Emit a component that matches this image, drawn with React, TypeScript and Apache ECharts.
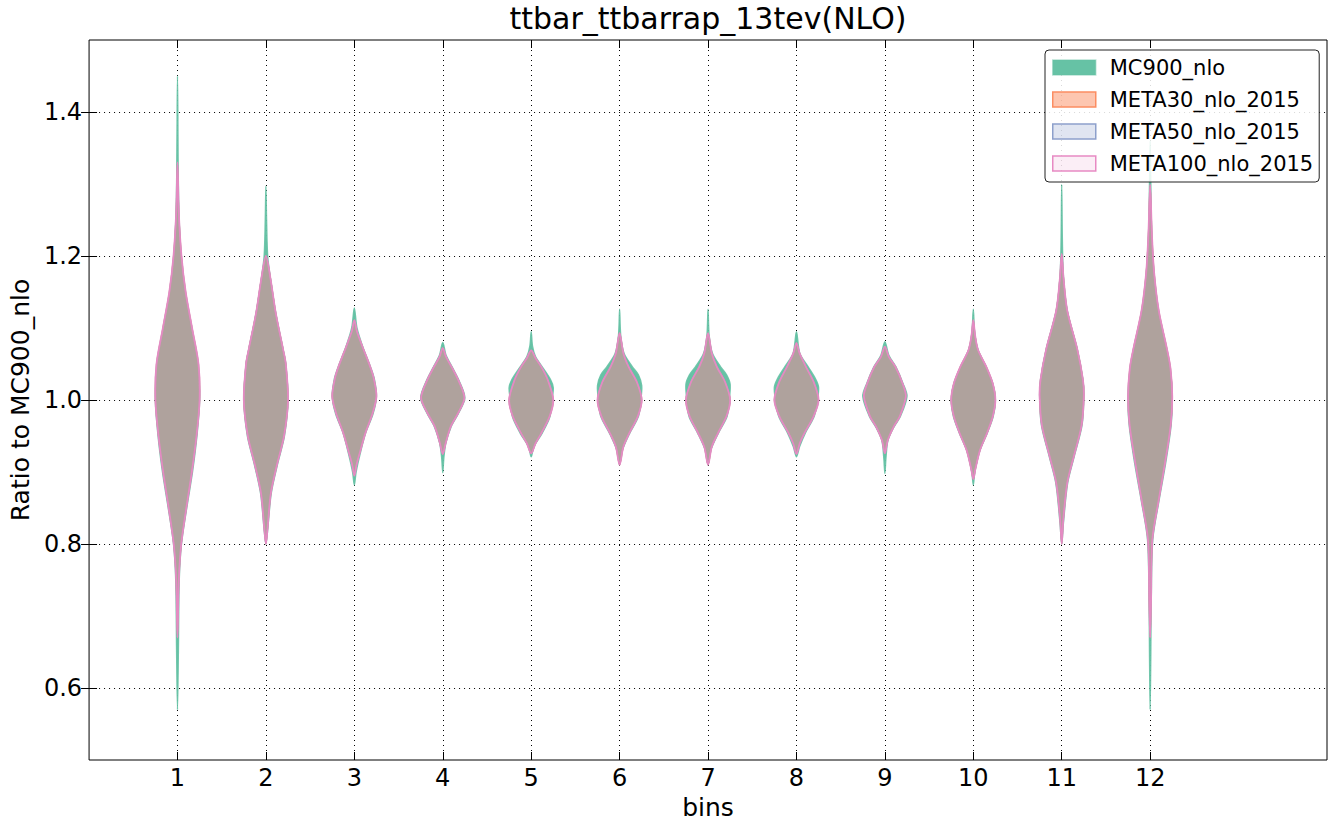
import React, { useEffect, useRef } from "react";
import * as echarts from "echarts";

const FONT = "DejaVu Sans";

const bins = [1, 2, 3, 4, 5, 6, 7, 8, 9, 10, 11, 12];
const yTicks = [0.6, 0.8, 1.0, 1.2, 1.4];
const seriesNames = ["MC900_nlo", "META30_nlo_2015", "META50_nlo_2015", "META100_nlo_2015"];

// Each violin: [ratio value, relative half-width (1 = widest point of that violin)]
type Profile = [number, number][];

const mc900Profiles: Profile[] = [
  [[0.57, 0], [0.65, 0.04], [0.75, 0.08], [0.8, 0.18], [0.85, 0.42], [0.9, 0.68], [0.95, 0.88], [1.0, 1.0], [1.05, 0.92], [1.1, 0.62], [1.15, 0.34], [1.2, 0.16], [1.28, 0.05], [1.45, 0]],
  [[0.8, 0], [0.82, 0.08], [0.87, 0.24], [0.91, 0.52], [0.95, 0.84], [1.0, 1.0], [1.05, 0.9], [1.07, 0.78], [1.12, 0.45], [1.17, 0.2], [1.2, 0.08], [1.25, 0.03], [1.297, 0]],
  [[0.882, 0], [0.9, 0.08], [0.925, 0.26], [0.955, 0.52], [0.98, 0.84], [1.005, 1.0], [1.03, 0.9], [1.046, 0.73], [1.074, 0.38], [1.1, 0.12], [1.128, 0]],
  [[0.899, 0], [0.92, 0.05], [0.94, 0.14], [0.963, 0.38], [0.982, 0.72], [1.003, 1.0], [1.028, 0.72], [1.046, 0.42], [1.062, 0.15], [1.08, 0]],
  [[0.921, 0], [0.935, 0.12], [0.954, 0.5], [0.977, 0.85], [1.0, 0.94], [1.017, 1.0], [1.028, 0.88], [1.046, 0.5], [1.06, 0.2], [1.075, 0.06], [1.095, 0]],
  [[0.91, 0], [0.93, 0.12], [0.954, 0.46], [0.977, 0.85], [1.0, 0.96], [1.02, 1.0], [1.035, 0.85], [1.046, 0.58], [1.065, 0.2], [1.09, 0.05], [1.126, 0]],
  [[0.91, 0], [0.93, 0.12], [0.954, 0.47], [0.977, 0.86], [1.0, 0.96], [1.022, 1.0], [1.035, 0.84], [1.046, 0.57], [1.065, 0.2], [1.09, 0.05], [1.126, 0]],
  [[0.921, 0], [0.935, 0.14], [0.954, 0.4], [0.977, 0.8], [1.0, 0.95], [1.018, 1.0], [1.03, 0.85], [1.046, 0.53], [1.065, 0.15], [1.095, 0]],
  [[0.898, 0], [0.92, 0.05], [0.944, 0.14], [0.963, 0.42], [0.977, 0.7], [1.005, 1.0], [1.023, 0.82], [1.046, 0.5], [1.062, 0.18], [1.081, 0]],
  [[0.882, 0], [0.9, 0.07], [0.93, 0.3], [0.954, 0.63], [0.977, 0.9], [1.0, 1.0], [1.023, 0.88], [1.046, 0.58], [1.069, 0.22], [1.09, 0.07], [1.126, 0]],
  [[0.8, 0], [0.83, 0.08], [0.885, 0.27], [0.922, 0.57], [0.965, 0.92], [1.005, 1.0], [1.028, 0.96], [1.071, 0.7], [1.124, 0.25], [1.17, 0.08], [1.22, 0.03], [1.299, 0]],
  [[0.57, 0], [0.65, 0.03], [0.72, 0.05], [0.806, 0.12], [0.86, 0.4], [0.912, 0.7], [0.965, 0.95], [1.005, 1.0], [1.044, 0.9], [1.071, 0.74], [1.124, 0.37], [1.177, 0.17], [1.23, 0.07], [1.3, 0.03], [1.36, 0]],
];

// META30 / META50 / META100 are indistinguishable in the picture
const metaProfiles: Profile[] = [
  [[0.67, 0], [0.75, 0.06], [0.8, 0.17], [0.85, 0.4], [0.9, 0.65], [0.95, 0.86], [1.0, 1.0], [1.05, 0.95], [1.1, 0.66], [1.15, 0.37], [1.2, 0.18], [1.26, 0.06], [1.33, 0]],
  [[0.8, 0], [0.82, 0.07], [0.87, 0.22], [0.91, 0.5], [0.95, 0.82], [1.0, 1.0], [1.05, 0.9], [1.07, 0.78], [1.12, 0.45], [1.17, 0.2], [1.2, 0]],
  [[0.895, 0], [0.91, 0.1], [0.926, 0.24], [0.954, 0.5], [0.982, 0.83], [1.005, 1.0], [1.03, 0.88], [1.046, 0.72], [1.074, 0.37], [1.095, 0.12], [1.111, 0]],
  [[0.925, 0], [0.94, 0.13], [0.963, 0.36], [0.982, 0.7], [1.003, 0.98], [1.028, 0.7], [1.046, 0.4], [1.06, 0.15], [1.072, 0]],
  [[0.926, 0], [0.94, 0.2], [0.954, 0.46], [0.977, 0.83], [1.0, 1.0], [1.028, 0.75], [1.046, 0.46], [1.058, 0.2], [1.069, 0]],
  [[0.91, 0], [0.935, 0.17], [0.954, 0.44], [0.977, 0.82], [1.0, 1.0], [1.025, 0.78], [1.046, 0.41], [1.065, 0.17], [1.093, 0]],
  [[0.91, 0], [0.935, 0.17], [0.954, 0.45], [0.977, 0.83], [1.0, 1.0], [1.025, 0.77], [1.046, 0.4], [1.065, 0.17], [1.093, 0]],
  [[0.925, 0], [0.94, 0.15], [0.954, 0.36], [0.977, 0.77], [1.0, 1.0], [1.025, 0.78], [1.046, 0.43], [1.065, 0.14], [1.079, 0]],
  [[0.926, 0], [0.944, 0.13], [0.963, 0.4], [0.977, 0.67], [1.005, 0.95], [1.023, 0.8], [1.046, 0.48], [1.06, 0.18], [1.074, 0]],
  [[0.89, 0], [0.905, 0.1], [0.93, 0.3], [0.954, 0.62], [0.977, 0.88], [1.0, 1.0], [1.023, 0.88], [1.046, 0.59], [1.069, 0.22], [1.09, 0.08], [1.111, 0]],
  [[0.8, 0], [0.833, 0.07], [0.885, 0.25], [0.922, 0.55], [0.965, 0.9], [1.005, 1.0], [1.028, 0.96], [1.071, 0.7], [1.124, 0.25], [1.17, 0.08], [1.203, 0]],
  [[0.67, 0], [0.72, 0.04], [0.806, 0.1], [0.86, 0.38], [0.912, 0.67], [0.965, 0.93], [1.005, 1.0], [1.044, 0.92], [1.071, 0.76], [1.124, 0.39], [1.177, 0.18], [1.23, 0.08], [1.299, 0]],
];

const profilesBySeries: Profile[][] = [mc900Profiles, metaProfiles, metaProfiles, metaProfiles];
const fillColors = ["rgba(102,194,165,1)", "rgba(252,141,98,0.5)", "rgba(141,160,203,0.28)", "rgba(231,138,195,0.15)"];
const edgeColors = ["rgba(102,194,165,0.9)", "rgba(252,141,98,0.8)", "rgba(141,160,203,0.8)", "rgba(231,138,195,0.95)"];
const edgeWidths = [1.4, 1.2, 1.2, 1.8];
const legendFill = ["rgba(102,194,165,1)", "rgba(252,141,98,0.5)", "rgba(141,160,203,0.27)", "rgba(231,138,195,0.15)"];
const legendEdge = ["rgba(102,194,165,0.45)", "#fc8d62", "#8da0cb", "#e78ac3"];

const HALF_WIDTH = 0.25;

export default function App() {
  const ref = useRef<HTMLDivElement>(null);
  useEffect(() => {
    document.body.style.margin = "0";
    const chart = echarts.init(ref.current!, undefined, { renderer: "svg" });
    const gridDots = { color: "#000", width: 1, type: [1, 4] as any };
    const series = seriesNames.map((name, si) => ({
      name,
      type: "custom",
      xAxisIndex: 0,
      yAxisIndex: 0,
      data: bins.map((b) => [b, 1.0]),
      encode: { x: 0, y: 1 },
      renderItem: (params: any, api: any) => {
        const b = api.value(0);
        const prof = profilesBySeries[si][b - 1];
        const right = prof.map(([v, w]) => api.coord([b + w * HALF_WIDTH, v]));
        const left = prof
          .slice(1, -1)
          .reverse()
          .map(([v, w]) => api.coord([b - w * HALF_WIDTH, v]));
        return {
          type: "polygon",
          shape: { points: [...right, ...left], smooth: 0.3 },
          style: { fill: fillColors[si], stroke: edgeColors[si], lineWidth: edgeWidths[si] },
        };
      },
    }));
    chart.setOption({
      animation: false,
      textStyle: { fontFamily: FONT },
      title: {
        text: "ttbar_ttbarrap_13tev(NLO)",
        left: 708,
        top: 3,
        textAlign: "center",
        padding: 0,
        textStyle: { fontSize: 30, fontWeight: "normal", color: "#000", fontFamily: FONT },
      },
      legend: {
        orient: "vertical",
        left: 1045,
        top: 50,
        padding: [7, 6, 8, 7],
        itemWidth: 43,
        itemHeight: 15,
        itemGap: 11,
        icon: "rect",
        backgroundColor: "rgba(255,255,255,0.85)",
        borderColor: "#222",
        borderWidth: 1,
        borderRadius: 4,
        textStyle: { fontSize: 21, fontFamily: FONT, color: "#000", padding: [0, 0, 0, 9] },
        data: seriesNames.map((n, i) => ({
          name: n,
          itemStyle: { color: legendFill[i], borderColor: legendEdge[i], borderWidth: 1.5 },
        })),
      },
      grid: { left: 87, right: 10, top: 40, bottom: 70, show: true, borderColor: "#000", borderWidth: 1 },
      xAxis: [
        {
          type: "value",
          min: 0,
          max: 14,
          position: "bottom",
          name: "bins",
          nameLocation: "middle",
          nameGap: 30,
          nameTextStyle: { fontSize: 25, color: "#000", fontFamily: FONT },
          axisLine: { show: false },
          axisTick: { show: true, inside: true, length: 8, customValues: bins, lineStyle: { color: "#000" } },
          axisLabel: { customValues: bins, fontSize: 24, color: "#000", margin: 6, fontFamily: FONT },
          splitLine: { show: true, lineStyle: gridDots },
        },
        {
          type: "value",
          min: 0,
          max: 14,
          position: "top",
          axisLine: { show: false },
          axisTick: { show: true, inside: true, length: 8, customValues: bins, lineStyle: { color: "#000" } },
          axisLabel: { show: false },
          splitLine: { show: false },
        },
      ],
      yAxis: [
        {
          type: "value",
          min: 0.5,
          max: 1.5,
          position: "left",
          name: "Ratio to MC900_nlo",
          nameLocation: "middle",
          nameGap: 55,
          nameTextStyle: { fontSize: 25, color: "#000", fontFamily: FONT },
          axisLine: { show: false },
          axisTick: { show: true, inside: true, length: 8, customValues: yTicks, lineStyle: { color: "#000" } },
          axisLabel: {
            customValues: yTicks,
            fontSize: 24,
            color: "#000",
            margin: 7,
            fontFamily: FONT,
            formatter: (v: number) => v.toFixed(1),
          },
          splitLine: { show: true, lineStyle: gridDots },
        },
        {
          type: "value",
          min: 0.5,
          max: 1.5,
          position: "right",
          axisLine: { show: false },
          axisTick: { show: true, inside: true, length: 8, customValues: yTicks, lineStyle: { color: "#000" } },
          axisLabel: { show: false },
          splitLine: { show: false },
        },
      ],
      series,
    });
    return () => chart.dispose();
  }, []);
  return <div ref={ref} style={{ width: 1337, height: 830 }} />;
}
